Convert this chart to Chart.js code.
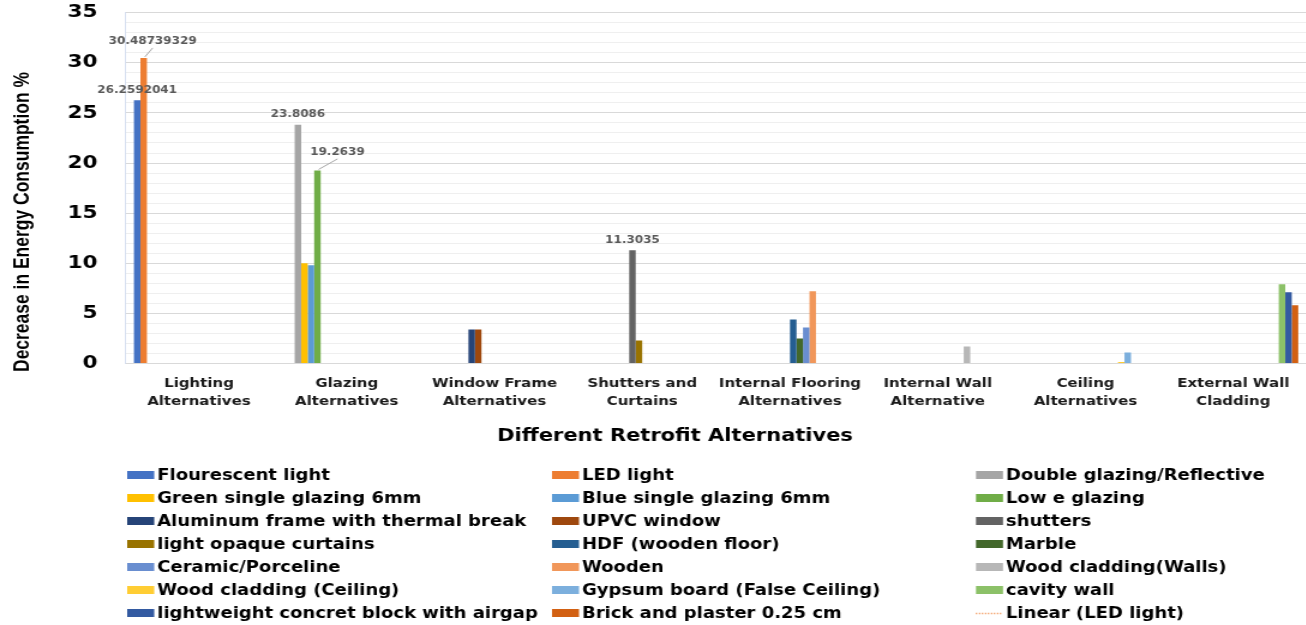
<!DOCTYPE html>
<html>
<head>
<meta charset="utf-8">
<script src="https://cdn.jsdelivr.net/npm/chart.js@4.4.1/dist/chart.umd.min.js"></script>
<style>
  html, body { margin: 0; padding: 0; background: #fff; overflow: hidden; }
  /* the original picture is stretched sideways, so the whole chart is drawn narrow and scaled */
  #wrap { width: 1090px; height: 625px; transform: scaleX(1.2); transform-origin: 0 0; }
</style>
</head>
<body>
<div id="wrap"><canvas id="myChart"></canvas></div>
<script>
const categories = [
  ["Lighting", "Alternatives"],
  ["Glazing", "Alternatives"],
  ["Window Frame", "Alternatives"],
  ["Shutters and", "Curtains"],
  ["Internal Flooring", "Alternatives"],
  ["Internal Wall", "Alternative"],
  ["Ceiling", "Alternatives"],
  ["External Wall", "Cladding"],
];

const seriesNames = [
  "Flourescent light", "LED light", "Double glazing/Reflective",
  "Green single glazing 6mm", "Blue single glazing 6mm", "Low e glazing",
  "Aluminum frame with thermal break", "UPVC window", "shutters",
  "light opaque curtains", "HDF (wooden floor)", "Marble",
  "Ceramic/Porceline", "Wooden", "Wood cladding(Walls)",
  "Wood cladding (Ceiling)", "Gypsum board (False Ceiling)", "cavity wall",
  "lightweight concret block with airgap", "Brick and plaster 0.25 cm",
];

// which category each series belongs to
const seriesCategory = [0, 0, 1, 1, 1, 1, 2, 2, 3, 3, 4, 4, 4, 4, 5, 6, 6, 7, 7, 7];

const seriesValues = [
  26.2592041, 30.48739329, 23.8086, 10.0, 9.8, 19.2639,
  3.4, 3.4, 11.3035, 2.3, 4.4, 2.5,
  3.6, 7.2, 1.7, 0.15, 1.1, 7.9,
  7.1, 5.8,
];

const seriesColors = [
  "#4472C4", "#ED7D31", "#A5A5A5", "#FFC000", "#5B9BD5", "#70AD47",
  "#264478", "#9E480E", "#636363", "#997300", "#255E91", "#43682B",
  "#698ED0", "#F1975A", "#B7B7B7", "#FFCD33", "#7CAFDD", "#8CC168",
  "#335AA1", "#D26012",
];

const trendName = "Linear (LED light)";
const yTickLabels = [0, 5, 10, 15, 20, 25, 30, 35];
const labelledSeries = [0, 1, 2, 5, 8];

const FONT = "'DejaVu Sans', Verdana, sans-serif";

// label offsets from the top of the bar (px, before the sideways stretch)
const labelPlace = {
  0: { dx: 0, dy: -10, leader: false },
  1: { dx: 7.5, dy: -17, leader: true },
  2: { dx: 0, dy: -10, leader: false },
  5: { dx: 16.7, dy: -18.5, leader: true },
  8: { dx: 0, dy: -10, leader: false },
};

let datasets = [];
for (let i = 0; i < seriesNames.length; i++) {
  datasets.push({
    type: "bar",
    label: seriesNames[i],
    data: categories.map((c, j) => (j === seriesCategory[i] ? seriesValues[i] : null)),
    backgroundColor: seriesColors[i],
    borderWidth: 0,
    barPercentage: 1.0,
    categoryPercentage: 0.88,
  });
}
// trendline of a single point: only shows up in the legend
datasets.push({
  type: "line",
  label: trendName,
  data: categories.map(() => null),
  borderColor: "#F08A45",
  borderWidth: 1.5,
  borderDash: [1, 1.5],
  pointRadius: 0,
});

const extrasPlugin = {
  id: "extras",
  afterDraw(chart) {
    const ctx = chart.ctx;
    ctx.save();

    // data labels
    ctx.font = `bold 10px ${FONT}`;
    ctx.fillStyle = "#595959";
    ctx.textAlign = "center";
    ctx.textBaseline = "middle";
    for (let i of labelledSeries) {
      let meta = chart.getDatasetMeta(i);
      let j = seriesCategory[i];
      let bar = meta.data[j];
      let p = labelPlace[i];
      let lx = bar.x + p.dx;
      let ly = bar.y + p.dy;
      if (p.leader) {
        ctx.strokeStyle = "#A6A6A6";
        ctx.lineWidth = 1;
        ctx.beginPath();
        ctx.moveTo(bar.x + 1, bar.y - 1);
        ctx.lineTo(lx, ly + 7);
        ctx.stroke();
      }
      ctx.fillText(String(seriesValues[i]), lx, ly);
    }

    // y axis title, sized to its length in the picture
    let yTitle = "Decrease in Energy Consumption %";
    let fam = "'Liberation Sans Narrow', 'Liberation Sans', Arial, sans-serif";
    ctx.font = `bold 20px ${fam}`;
    let size = (20 * 300) / ctx.measureText(yTitle).width;
    ctx.font = `bold ${size}px ${fam}`;
    ctx.fillStyle = "#000";
    ctx.translate(19, 222);
    ctx.rotate(-Math.PI / 2);
    ctx.fillText(yTitle, 0, 0);
    ctx.setTransform(1, 0, 0, 1, 0, 0);

    // x axis title
    ctx.font = `bold 17.5px ${FONT}`;
    ctx.fillText("Different Retrofit Alternatives", 562.5, 436);

    // legend, 3 columns
    let colSwatch = [106, 460, 813.3];
    let colText = [131, 485, 838.3];
    ctx.font = `bold 15px ${FONT}`;
    ctx.textAlign = "left";
    chart.data.datasets.forEach((ds, i) => {
      let row = Math.floor(i / 3);
      let col = i % 3;
      let y = 475 + row * 23;
      if (ds.type === "line") {
        ctx.strokeStyle = ds.borderColor;
        ctx.lineWidth = ds.borderWidth;
        ctx.setLineDash(ds.borderDash);
        ctx.beginPath();
        ctx.moveTo(colSwatch[col], y + 0.5);
        ctx.lineTo(colSwatch[col] + 22.5, y + 0.5);
        ctx.stroke();
        ctx.setLineDash([]);
      } else {
        ctx.fillStyle = ds.backgroundColor;
        ctx.fillRect(colSwatch[col], y - 4, 22.5, 8);
      }
      ctx.fillStyle = "#000";
      ctx.fillText(ds.label, colText[col], y + 1);
    });

    ctx.restore();
  },
};

const ctx = document.getElementById("myChart");

new Chart(ctx, {
  data: {
    labels: categories,
    datasets: datasets,
  },
  options: {
    responsive: true,
    maintainAspectRatio: false,
    animation: false,
    layout: {
      padding: { top: 12.7, left: 0, right: 0, bottom: 0 },
    },
    scales: {
      x: {
        grid: { display: false, drawTicks: false },
        border: { display: true, color: "#D9D9D9", width: 1 },
        ticks: {
          color: "#1a1a1a",
          font: { family: FONT, size: 12.5, weight: "bold", lineHeight: 1.44 },
          padding: 11,
          autoSkip: false,
          maxRotation: 0,
        },
        afterFit: (scale) => {
          scale.height = 261.5;
        },
      },
      y: {
        min: 0,
        max: 35,
        grid: {
          drawTicks: true,
          tickLength: 23,
          tickColor: "rgba(0,0,0,0)",
          color: (c) => (c.tick && c.tick.value % 5 === 0 ? "#D9D9D9" : "#EFEFEF"),
          lineWidth: 1,
        },
        border: { display: true, color: "#D6DFF0", width: 1 },
        ticks: {
          stepSize: 1,
          maxTicksLimit: 40,
          autoSkip: false,
          padding: 0,
          color: "#000",
          font: { family: FONT, size: 18, weight: "bold" },
          callback: (v) => (yTickLabels.includes(v) ? v : ""),
        },
        afterFit: (scale) => {
          scale.width = 104.2;
        },
      },
    },
    plugins: {
      legend: { display: false },
      tooltip: { enabled: false },
    },
  },
  plugins: [extrasPlugin],
});
</script>
</body>
</html>
